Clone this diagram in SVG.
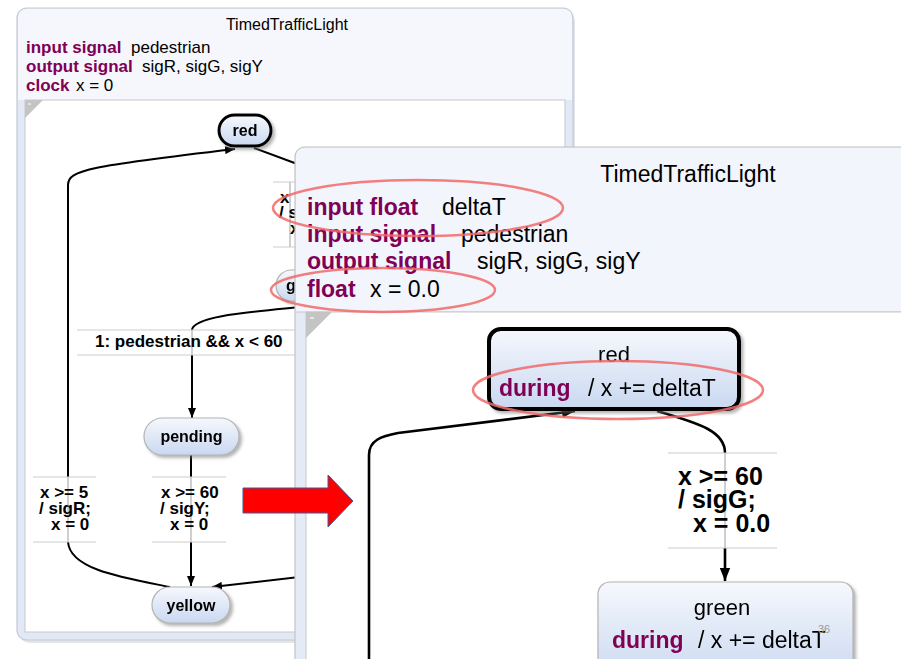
<svg xmlns="http://www.w3.org/2000/svg" width="901" height="659" viewBox="0 0 901 659">
<style>
text{font-family:"Liberation Sans",Arial,Helvetica,sans-serif;fill:#000}
.kw{font-weight:bold;fill:#7f0055}
.b{font-weight:bold}
.edge{fill:none;stroke:#000;stroke-width:2}
.edgeR{fill:none;stroke:#000;stroke-width:2.6}
.ghost{fill:none;stroke:#cfcfcf;stroke-width:2}
.lbl{stroke:#cccccc;stroke-width:1}
.node{fill:url(#ng);stroke:#b4b4b4;stroke-width:1.2}
.anno{fill:none;stroke:#f06a6a;stroke-opacity:0.85;stroke-width:2.5}
</style>
<defs>
<linearGradient id="ng" x1="0" y1="0" x2="0" y2="1">
<stop offset="0" stop-color="#f6f8fd"/>
<stop offset="1" stop-color="#c9d8f0"/>
</linearGradient>
<filter id="sh" x="-10%" y="-10%" width="130%" height="140%">
<feDropShadow dx="2.5" dy="2.5" stdDeviation="1.5" flood-color="#777" flood-opacity="0.55"/>
</filter>
<marker id="ah" viewBox="0 0 10 8" refX="10" refY="4" markerWidth="10" markerHeight="8" markerUnits="userSpaceOnUse" orient="auto">
<path d="M0,0 L10,4 L0,8 z" fill="#000"/>
</marker>
<marker id="ahR" viewBox="0 0 10 8" refX="10" refY="4" markerWidth="13" markerHeight="11" markerUnits="userSpaceOnUse" orient="auto">
<path d="M0,0 L10,4 L0,8 z" fill="#000"/>
</marker>
<clipPath id="leftclip">
<path d="M0,0 H901 V147 H295 V659 H0 Z"/>
</clipPath>
</defs>
<rect width="901" height="659" fill="#ffffff"/>

<!-- LEFT PANEL (old version) -->
<g id="left-panel" clip-path="url(#leftclip)">
<rect x="19" y="11" width="556" height="632" rx="10" fill="#cfd3da" opacity="0.6"/>
<rect x="17" y="8" width="556" height="632" rx="10" fill="#e2e9f6" stroke="#c3c9d3" stroke-width="1.2"/>
<path d="M18,100 V18 Q18,9 27,9 H563 Q572,9 572,18 V100 Z" fill="#f5f7fc"/>
<rect x="25" y="100" width="540" height="532" fill="#ffffff" stroke="#c8c8c8" stroke-width="1"/>
<path d="M25,100 H43 L25,118 Z" fill="#c4c4c4"/>
<line x1="28" y1="104" x2="31" y2="104" stroke="#fff" stroke-width="1"/>
<text x="287" y="30" font-size="16" text-anchor="middle">TimedTrafficLight</text>
<text x="26" y="53" font-size="17"><tspan class="kw">input signal</tspan><tspan x="131">pedestrian</tspan></text>
<text x="26" y="72" font-size="17"><tspan class="kw">output signal</tspan><tspan x="142">sigR, sigG, sigY</tspan></text>
<text x="26" y="91" font-size="17"><tspan class="kw">clock</tspan><tspan x="76">x = 0</tspan></text>

<g id="left-connectors">
<path class="edge" d="M254,148 L300,165"/>
<path class="edge" d="M300,307 C250,312 193,316 192,330"/>
<path class="ghost" d="M192,330 V355"/>
<path class="edge" d="M192,355 V418" marker-end="url(#ah)"/>
<path class="edge" d="M191,455 V477"/>
<path class="ghost" d="M191,477 V542"/>
<path class="edge" d="M191,542 V586" marker-end="url(#ah)"/>
<path class="edge" d="M170,587 C125,578 70,570 68,542"/>
<path class="ghost" d="M68,542 V477"/>
<path class="edge" d="M68,477 V185 C68,170 90,166 235,149" marker-end="url(#ah)"/>
<path class="edge" d="M300,577 L212,587" marker-end="url(#ah)"/>
<path class="ghost" d="M290,182 V247"/>
<!-- label boxes -->
<line class="lbl" x1="273" y1="182" x2="300" y2="182"/>
<line class="lbl" x1="273" y1="247" x2="300" y2="247"/>
<text font-size="17" class="b" x="280" y="203">x</text>
<text font-size="17" class="b" x="279" y="218">/ s</text>
<text font-size="17" class="b" x="290" y="234">x</text>
<line class="lbl" x1="77" y1="330" x2="300" y2="330"/>
<line class="lbl" x1="77" y1="355" x2="300" y2="355"/>
<text font-size="17" class="b" x="95" y="347">1: pedestrian &amp;&amp; x &lt; 60</text>
<line class="lbl" x1="33" y1="477" x2="96" y2="477"/>
<line class="lbl" x1="33" y1="542" x2="96" y2="542"/>
<text font-size="17" class="b" x="40" y="498">x &gt;= 5</text>
<text font-size="17" class="b" x="39" y="514">/ sigR;</text>
<text font-size="17" class="b" x="51" y="530">x = 0</text>
<line class="lbl" x1="152" y1="477" x2="226" y2="477"/>
<line class="lbl" x1="152" y1="542" x2="226" y2="542"/>
<text font-size="17" class="b" x="161" y="498">x &gt;= 60</text>
<text font-size="17" class="b" x="160" y="514">/ sigY;</text>
<text font-size="17" class="b" x="170" y="530">x = 0</text>
</g>

<g id="left-red" filter="url(#sh)">
<rect x="219" y="115" width="52" height="31" rx="15.5" fill="url(#ng)" stroke="#000" stroke-width="3"/>
<text x="245" y="136" font-size="16" class="b" text-anchor="middle">red</text>
</g>
<g id="left-green" filter="url(#sh)">
<rect x="276" y="270" width="90" height="31" rx="15.5" class="node"/>
<text x="286" y="291" font-size="16" class="b">g</text>
</g>
<g id="left-pending" filter="url(#sh)">
<rect x="144" y="418" width="95" height="37" rx="18.5" class="node"/>
<text x="191.5" y="442" font-size="16" class="b" text-anchor="middle">pending</text>
</g>
<g id="left-yellow" filter="url(#sh)">
<rect x="152" y="587" width="78" height="36" rx="18" class="node"/>
<text x="191" y="611" font-size="16" class="b" text-anchor="middle">yellow</text>
</g>
</g>

<!-- RIGHT PANEL (new version) -->
<g id="right-panel">
<rect x="295" y="147" width="630" height="540" rx="10" fill="#e4eaf6" stroke="#c3c3c3" stroke-width="1.2"/>
<path d="M296,312 V157 Q296,148 305,148 H901 V312 Z" fill="#f3f5fc"/>
<line x1="296" y1="312" x2="901" y2="312" stroke="#c8c8c8" stroke-width="1.2"/>
<rect x="306" y="312" width="620" height="360" fill="#ffffff" stroke="#c8c8c8" stroke-width="1"/>
<path d="M306,312 H332 L306,338 Z" fill="#c4c4c4"/>
<line x1="310" y1="318" x2="314" y2="318" stroke="#fff" stroke-width="1.2"/>
<text x="688" y="182" font-size="23" text-anchor="middle">TimedTrafficLight</text>
<text x="307" y="215" font-size="23"><tspan class="kw">input float</tspan><tspan x="442">deltaT</tspan></text>
<text x="307" y="242" font-size="23"><tspan class="kw">input signal</tspan><tspan x="461">pedestrian</tspan></text>
<text x="307" y="269" font-size="23"><tspan class="kw">output signal</tspan><tspan x="477">sigR, sigG, sigY</tspan></text>
<text x="307" y="297" font-size="23"><tspan class="kw">float</tspan><tspan x="370">x = 0.0</tspan></text>
</g>

<g id="right-connectors">
<path class="edgeR" d="M369,660 V455 C369,440 382,436 398,433 L575,411" marker-end="url(#ahR)"/>
<path class="edgeR" d="M657,411 C702,424 725,432 725,453"/>
<path class="ghost" d="M725,453 V548" stroke-width="2.5"/>
<path class="edgeR" d="M725,548 V581" marker-end="url(#ahR)"/>
<line class="lbl" x1="668" y1="453" x2="777" y2="453"/>
<line class="lbl" x1="668" y1="548" x2="777" y2="548"/>
<text font-size="25" class="b" x="678" y="485">x &gt;= 60</text>
<text font-size="25" class="b" x="678" y="508">/ sigG;</text>
<text font-size="25" class="b" x="693" y="532">x = 0.0</text>
</g>

<g id="right-red" filter="url(#sh)">
<rect x="489" y="329" width="250" height="80" rx="12" fill="url(#ng)" stroke="#000" stroke-width="4"/>
<text x="614" y="362" font-size="22" text-anchor="middle">red</text>
<text x="499" y="396" font-size="23"><tspan class="kw">during</tspan><tspan x="588">/ x += deltaT</tspan></text>
</g>
<g id="right-green" filter="url(#sh)">
<rect x="598" y="582" width="255" height="100" rx="12" class="node" stroke-width="1.5"/>
<text x="722" y="615" font-size="22" text-anchor="middle">green</text>
<text x="612" y="648" font-size="23"><tspan class="kw">during</tspan><tspan x="698">/ x += deltaT</tspan></text>
</g>
<text x="818" y="633" font-size="11" style="fill:#9a9a9a">36</text>

<!-- annotations -->
<g id="annotations">
<ellipse class="anno" cx="418" cy="208" rx="145" ry="28"/>
<ellipse class="anno" cx="383" cy="290" rx="112" ry="22"/>
<ellipse class="anno" cx="618" cy="390" rx="145" ry="29"/>
<polygon points="243,488 328,488 328,475 353,501 328,527 328,513 243,513" fill="#ff0000" stroke="#3a5aa0" stroke-width="1"/>
</g>
</svg>
